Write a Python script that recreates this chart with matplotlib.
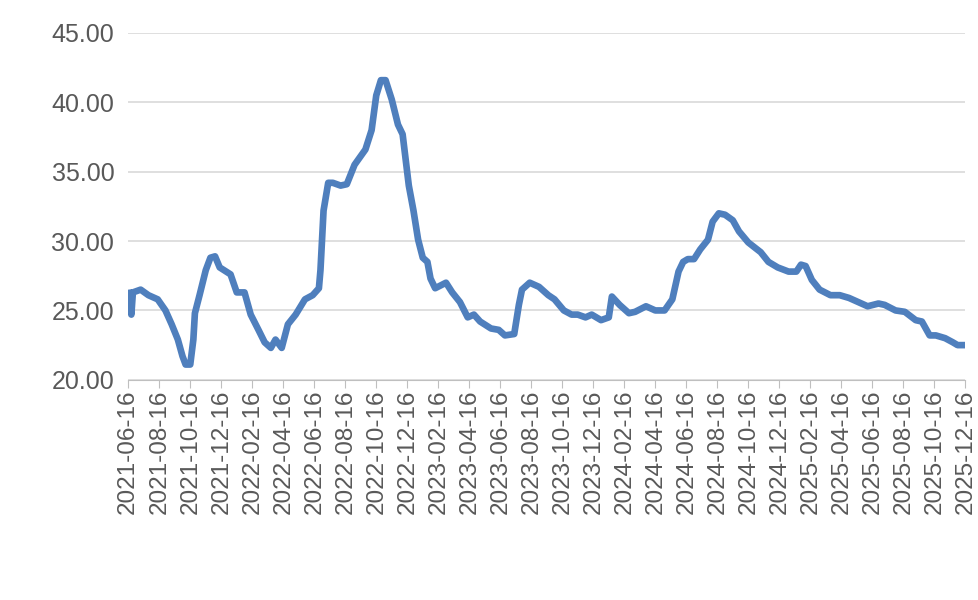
import numpy as np
import matplotlib
matplotlib.use("Agg")
import matplotlib.pyplot as plt

plt.rcParams['font.family'] = ['Liberation Sans', 'DejaVu Sans']

# months since 2021-06-16
months = [0, 0.2, 0.3, 0.8, 1.3, 1.9, 2.4, 2.8, 3.2, 3.5, 3.7, 4.0, 4.2, 4.3, 4.6, 5.0, 5.3, 5.6, 5.9,
          6.6, 7.0, 7.5, 7.9, 8.4, 8.8, 9.2, 9.5, 9.9, 10.3, 10.8, 11.4, 11.9, 12.3, 12.4, 12.6, 12.9,
          13.2, 13.7, 14.1, 14.6, 15.3, 15.7, 16.0, 16.3, 16.6, 17.0, 17.4, 17.7, 18.1, 18.4, 18.7,
          19.0, 19.3, 19.5, 19.8, 20.5, 20.9, 21.4, 21.9, 22.3, 22.7, 23.4, 23.9, 24.3, 24.9, 25.2,
          25.4, 25.9, 26.5, 27.1, 27.5, 28.1, 28.6, 29.0, 29.5, 29.9, 30.5, 31.0, 31.2, 31.7, 32.3,
          32.7, 33.4, 34.0, 34.6, 35.1, 35.5, 35.8, 36.1, 36.5, 36.9, 37.4, 37.7, 38.1, 38.5, 39.0,
          39.4, 40.0, 40.8, 41.3, 41.9, 42.6, 43.1, 43.4, 43.7, 44.1, 44.6, 45.3, 45.9, 46.5, 47.1,
          47.7, 48.4, 48.8, 49.5, 50.1, 50.8, 51.2, 51.7, 52.1, 52.7, 53.2, 53.5, 54.0]
values = [26.5, 24.7, 26.3, 26.5, 26.1, 25.8, 25.0, 24.0, 22.9, 21.7, 21.1, 21.1, 22.9, 24.8, 26.1, 27.9,
          28.8, 28.9, 28.1, 27.6, 26.3, 26.3, 24.7, 23.6, 22.7, 22.3, 22.9, 22.3, 24.0, 24.7, 25.8,
          26.1, 26.6, 27.9, 32.2, 34.2, 34.2, 34.0, 34.1, 35.5, 36.6, 38.0, 40.5, 41.6, 41.6, 40.2,
          38.4, 37.7, 34.0, 32.2, 30.1, 28.8, 28.5, 27.3, 26.6, 27.0, 26.3, 25.6, 24.5, 24.7, 24.2,
          23.7, 23.6, 23.2, 23.3, 25.4, 26.5, 27.0, 26.7, 26.1, 25.8, 25.0, 24.7, 24.7, 24.5, 24.7,
          24.3, 24.5, 26.0, 25.4, 24.8, 24.9, 25.3, 25.0, 25.0, 25.8, 27.8, 28.5, 28.7, 28.7, 29.4,
          30.1, 31.4, 32.0, 31.9, 31.5, 30.7, 29.9, 29.2, 28.5, 28.1, 27.8, 27.8, 28.3, 28.2, 27.2,
          26.5, 26.1, 26.1, 25.9, 25.6, 25.3, 25.5, 25.4, 25.0, 24.9, 24.3, 24.2, 23.2, 23.2, 23.0,
          22.7, 22.5, 22.5]
tick_labels = [f"{y}-{m:02d}-16" for y in range(2021, 2026) for m in range(2, 13, 2)
               if not (y == 2021 and m < 6)]

fig = plt.figure(figsize=(9.79, 6), dpi=100)
ax = fig.add_axes([0.131, 0.367, 0.855, 0.578])
ax.plot(months, values, color="#4F7FBD", lw=4.8, solid_joinstyle="round", solid_capstyle="butt")

ax.set_ylim(20, 45)
ax.set_yticks(np.arange(20, 46, 5))
ax.set_yticklabels([f"{v:.2f}" for v in np.arange(20, 46, 5)])
ax.set_xlim(0, 54)
ax.set_xticks(np.arange(0, 55, 2))
ax.set_xticklabels(tick_labels, rotation=90)
ax.grid(axis="y", color="#D9D9D9", lw=1.2)
ax.set_axisbelow(True)
for s in ["top", "right", "left"]:
    ax.spines[s].set_visible(False)
ax.spines["bottom"].set_color("#BFBFBF")
ax.tick_params(axis="y", length=0, labelsize=18, colors="#595959", pad=10)
ax.tick_params(axis="x", length=6, color="#BFBFBF", labelsize=17.5, labelcolor="#595959", pad=1)

fig.savefig("out.png", dpi=100)
